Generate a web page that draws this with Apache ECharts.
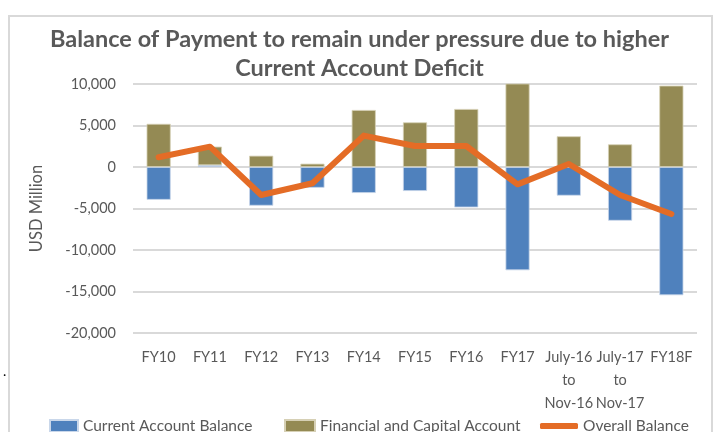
<!DOCTYPE html>
<html><head><meta charset="utf-8">
<script src="https://cdn.jsdelivr.net/npm/echarts@6/dist/echarts.min.js"></script>
<style>html,body{margin:0;padding:0;background:#fff}#c{width:719px;height:432px}</style>
</head><body><div id="c"></div>
<script>
const categories = ['FY10','FY11','FY12','FY13','FY14','FY15','FY16','FY17','July-16\nto\nNov-16','July-17\nto\nNov-17','FY18F'];
const currentAccount = [-3950, 214, -4660, -2500, -3130, -2890, -4870, -12440, -3450, -6470, -15450];
const financialCapital = [5200, 2240, 1360, 400, 6870, 5380, 6990, 10400, 3700, 2730, 9800];
const overallBalance = [1170, 2450, -3370, -1960, 3780, 2530, 2530, -2090, 360, -3370, -5660];
const yTicks = {min: -20000, max: 10000, interval: 5000};

const FONT = 'Lato';
const GRAY = '#595959';
const chart = echarts.init(document.getElementById('c'), null, {renderer: 'canvas'});
const legendText = {color: GRAY, fontSize: 15.5, fontFamily: FONT};
chart.setOption({
  animation: false,
  backgroundColor: '#fff',
  graphic: [
    {type: 'rect', shape: {x: 9, y: 16, width: 703, height: 430}, style: {fill: 'none', stroke: '#D9D9D9', lineWidth: 2}},
    {type: 'text', left: 3, top: 364, style: {text: '.', fontSize: 14, fill: '#000', fontFamily: FONT}}
  ],
  title: {
    text: 'Balance of Payment to remain under pressure due to higher\nCurrent Account Deficit',
    left: 'center', top: 20,
    textStyle: {fontFamily: FONT, fontWeight: 'bold', fontSize: 23.5, color: GRAY, lineHeight: 29}
  },
  legend: [
    {data: ['Current Account Balance'], left: 44, top: 413, itemWidth: 28, itemHeight: 12, textStyle: legendText, icon: 'rect'},
    {data: ['Financial and Capital Account'], left: 279, top: 413, itemWidth: 30, itemHeight: 12, textStyle: legendText, icon: 'rect'},
    {data: ['Overall Balance'], left: 535, top: 413, itemWidth: 38, itemHeight: 6, textStyle: legendText, icon: 'roundRect'}
  ],
  grid: {left: 133, right: 22, top: 84, bottom: 99, containLabel: false},
  xAxis: {
    type: 'category', data: categories,
    axisLine: {show: false}, axisTick: {show: false},
    axisLabel: {color: GRAY, fontSize: 14.5, fontFamily: FONT, margin: 13, lineHeight: 23, interval: 0}
  },
  yAxis: {
    type: 'value', min: yTicks.min, max: yTicks.max, interval: yTicks.interval,
    name: 'USD Million', nameLocation: 'middle', nameGap: 88,
    nameTextStyle: {color: GRAY, fontSize: 16.5, fontFamily: FONT},
    axisLine: {show: false}, axisTick: {show: false},
    axisLabel: {color: GRAY, fontSize: 14.5, fontFamily: FONT, margin: 17, formatter: v => v.toLocaleString('en-US')},
    splitLine: {lineStyle: {color: '#D9D9D9', width: 2}}
  },
  series: [
    {name: 'Current Account Balance', type: 'bar', stack: 'bop', data: currentAccount, barWidth: '47%',
     itemStyle: {color: '#4F81BD', borderColor: '#C9D7EA', borderWidth: 0.8}},
    {name: 'Financial and Capital Account', type: 'bar', stack: 'bop', data: financialCapital, barWidth: '47%',
     itemStyle: {color: '#948A54', borderColor: '#D6D0B5', borderWidth: 0.8}},
    {name: 'Overall Balance', type: 'line', data: overallBalance, showSymbol: false, symbol: 'none',
     lineStyle: {color: '#E46C26', width: 6, cap: 'round', join: 'round'}, itemStyle: {color: '#E46C26'}, z: 5}
  ]
});
</script></body></html>
